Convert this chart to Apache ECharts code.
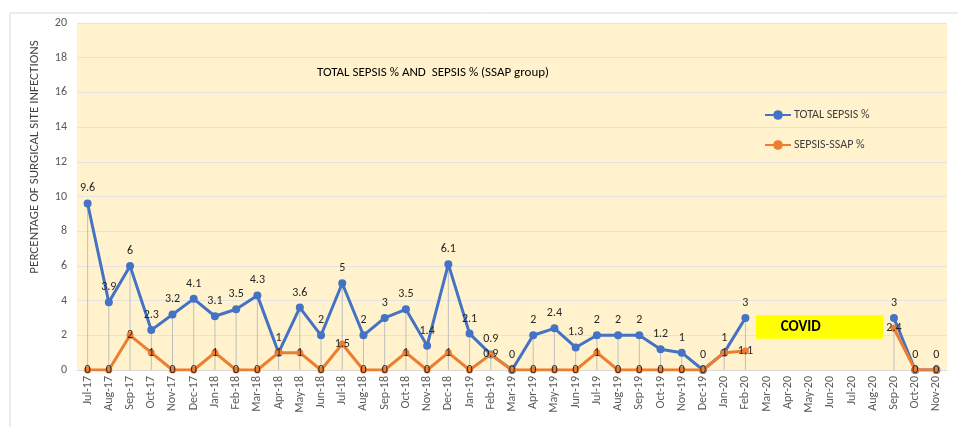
<!DOCTYPE html>
<html><head><meta charset="utf-8">
<script src="https://cdn.jsdelivr.net/npm/echarts@6/dist/echarts.min.js"></script>
<style>html,body{margin:0;padding:0;background:#fff}#c{width:958px;height:427px}</style>
</head><body><div id="c"></div>
<script>
const categories = ['Jul-17','Aug-17','Sep-17','Oct-17','Nov-17','Dec-17','Jan-18','Feb-18','Mar-18','Apr-18','May-18','Jun-18','Jul-18','Aug-18','Sep-18','Oct-18','Nov-18','Dec-18','Jan-19','Feb-19','Mar-19','Apr-19','May-19','Jun-19','Jul-19','Aug-19','Sep-19','Oct-19','Nov-19','Dec-19','Jan-20','Feb-20','Mar-20','Apr-20','May-20','Jun-20','Jul-20','Aug-20','Sep-20','Oct-20','Nov-20'];
const totalSepsis = [9.6,3.9,6,2.3,3.2,4.1,3.1,3.5,4.3,1,3.6,2,5,2,3,3.5,1.4,6.1,2.1,0.9,0,2,2.4,1.3,2,2,2,1.2,1,0,1,3,null,null,null,null,null,null,3,0,0];
const sepsisSSAP = [0,0,2,1,0,0,1,0,0,1,1,0,1.5,0,0,1,0,1,0,0.9,0,0,0,0,1,0,0,0,0,0,1,1.1,null,null,null,null,null,null,2.4,0,0];
const yTicks = {min:0, max:20, interval:2};
const titleText = 'TOTAL SEPSIS % AND  SEPSIS % (SSAP group)';
const yName = 'PERCENTAGE OF SURGICAL SITE INFECTIONS';
const covidLabel = 'COVID';
const covidRange = {from:'Mar-20', to:'Aug-20', yLow:1.8, yHigh:3.15};

const dropLines = categories.map((c,i)=>{
  const a = totalSepsis[i], b = sepsisSSAP[i];
  if (a==null && b==null) return null;
  return Math.max(a==null?0:a, b==null?0:b);
});

const chart = echarts.init(document.getElementById('c'), null, {renderer:'canvas'});
const font = 'Carlito, Lato, "Liberation Sans", sans-serif';
chart.setOption({
  backgroundColor:'#fff',
  animation:false,
  textStyle:{fontFamily:font},
  graphic:[
    {type:'rect', shape:{x:10,y:13,width:960,height:430}, style:{fill:'none', stroke:'#D9D9D9', lineWidth:1}, z:-10, silent:true},
    {type:'text', x:35, y:157, rotation:Math.PI/2, silent:true,
      style:{text:yName, textAlign:'center', textVerticalAlign:'middle', font:'13px '+font, fill:'#404040'}}
  ],
  title:{text:titleText, left:312, top:61, textStyle:{fontSize:13, fontWeight:'normal', color:'#000', fontFamily:font}},
  legend:{data:['TOTAL SEPSIS %','SEPSIS-SSAP %'], orient:'vertical', left:759, top:104, itemGap:18, itemWidth:26, itemHeight:12,
    textStyle:{fontSize:12, color:'#404040', fontFamily:font, padding:[0,0,0,-2]}},
  grid:{left:77, right:11, top:23, bottom:57, show:true, backgroundColor:'#FFF2CC', borderWidth:0},
  xAxis:{type:'category', data:categories, boundaryGap:true,
    axisLine:{lineStyle:{color:'#D9D9D9'}}, axisTick:{show:false},
    axisLabel:{rotate:90, interval:0, fontSize:12, color:'#595959', fontFamily:font, margin:6}},
  yAxis:{type:'value', min:yTicks.min, max:yTicks.max, interval:yTicks.interval,
    axisLine:{show:false}, axisTick:{show:false},
    axisLabel:{fontSize:12, color:'#595959', fontFamily:font, margin:10},
    splitLine:{lineStyle:{color:'#E3E3E3', width:1}}},
  series:[
    {name:'drop', type:'bar', data:dropLines, barWidth:1, silent:true, itemStyle:{color:'#BFBFBF'}, z:1, legendHoverLink:false},
    {name:'covid', type:'custom', silent:true, z:2,
      data:[[categories.indexOf(covidRange.from), categories.indexOf(covidRange.to), covidRange.yLow, covidRange.yHigh]],
      renderItem:function(params, api){
        const band = api.size([1,0])[0];
        const p1 = api.coord([api.value(0), api.value(3)]);
        const p2 = api.coord([api.value(1), api.value(2)]);
        const x = p1[0]-band/2, w = p2[0]+band/2 - x;
        return {type:'group', children:[
          {type:'rect', shape:{x:x, y:p1[1], width:w, height:p2[1]-p1[1]}, style:{fill:'#FFFF00'}},
          {type:'text', style:{text:covidLabel, x:x+w/2-19, y:(p1[1]+p2[1])/2, textAlign:'center', textVerticalAlign:'middle',
            font:'bold 15px '+font, fill:'#000'}}
        ]};
      }},
    {name:'TOTAL SEPSIS %', type:'line', data:totalSepsis, connectNulls:false, symbol:'circle', symbolSize:8,
      lineStyle:{color:'#4472C4', width:3}, itemStyle:{color:'#4472C4'}, z:3,
      label:{show:true, position:'top', distance:5, fontSize:12, color:'#262626', fontFamily:font}},
    {name:'SEPSIS-SSAP %', type:'line', data:sepsisSSAP, connectNulls:false, symbol:'circle', symbolSize:7,
      lineStyle:{color:'#ED7D31', width:3}, itemStyle:{color:'#ED7D31'}, z:4,
      label:{show:true, position:'inside', fontSize:12, color:'#262626', fontFamily:font}}
  ]
});
</script></body></html>
